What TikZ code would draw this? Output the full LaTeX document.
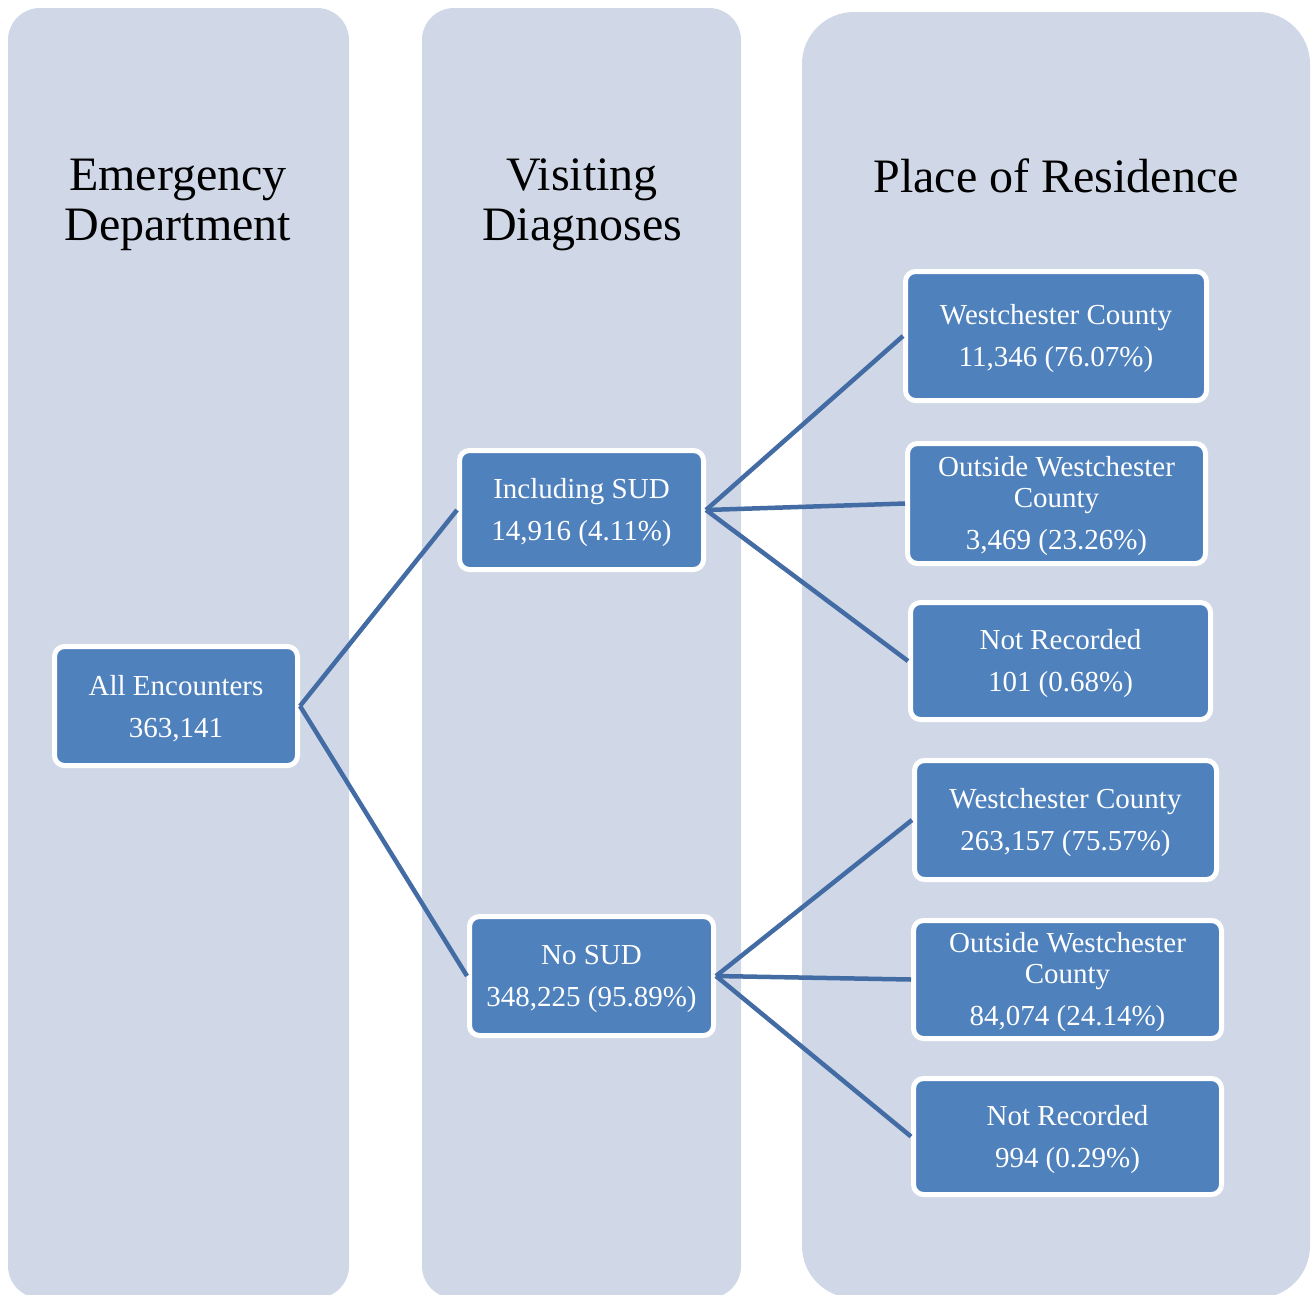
\documentclass[tikz,border=0pt]{standalone}
\usepackage{fontspec}
\setmainfont{Liberation Serif}
\usetikzlibrary{positioning}

\definecolor{lanefill}{RGB}{208,216,232}
\definecolor{boxfill}{RGB}{79,129,189}
\definecolor{linkcol}{RGB}{68,108,164}

\newcommand{\boxstrut}{\rule{0pt}{26pt}}

\tikzset{
  lane/.style={fill=lanefill, draw=none, rounded corners=#1},
  lanetitle/.style={font=\fontsize{48}{50}\selectfont, align=center, text=black},
  box/.style={fill=boxfill, draw=white, line width=5pt, rounded corners=10pt,
    text=white, align=center, font=\fontsize{29}{42}\selectfont, inner sep=0pt},
  link/.style={draw=linkcol, line width=4.5pt}
}

\begin{document}
\begin{tikzpicture}[x=1pt,y=-1pt]

    \useasboundingbox (0,0) rectangle (1314,1294);
    \clip (0,0) rectangle (1314,1294);

    % lanes
    \path[lane=32pt] (8,8) rectangle (349,1298);
    \path[lane=32pt] (422,8) rectangle (741,1298);
    \path[lane=52pt] (802,12) rectangle (1310,1298);

    \node[lanetitle] (tED) at (178,205) {Emergency\\Department};
    \node[lanetitle] (tVD) at (582,205) {Visiting\\Diagnoses};
    \node[lanetitle] (tPR) at (1056,176) {Place of Residence};

    % boxes
    \node[box, minimum width=243pt, minimum height=119pt] (enc) at (176,706) {\boxstrut All Encounters\\363,141};

    \node[box, minimum width=244pt, minimum height=119pt] (sud) at (581.5,510) {\boxstrut Including SUD\\14,916 (4.11\%)};
    \node[box, minimum width=244pt, minimum height=119pt] (nosud) at (591.5,976) {\boxstrut No SUD\\348,225 (95.89\%)};

    \node[box, minimum width=301pt, minimum height=129pt] (wcA) at (1056,336) {\boxstrut Westchester County\\11,346 (76.07\%)};
    \node[box, minimum width=298pt, minimum height=120pt] (owcA) at (1056.5,503.5) {\boxstrut Outside Westchester\\[-11pt]County\\3,469 (23.26\%)};
    \node[box, minimum width=300pt, minimum height=117pt] (nrA) at (1060.5,661) {\boxstrut Not Recorded\\101 (0.68\%)};

    \node[box, minimum width=302pt, minimum height=119pt] (wcB) at (1065.5,820) {\boxstrut Westchester County\\263,157 (75.57\%)};
    \node[box, minimum width=308pt, minimum height=118pt] (owcB) at (1067.5,979.5) {\boxstrut Outside Westchester\\[-11pt]County\\84,074 (24.14\%)};
    \node[box, minimum width=308pt, minimum height=116pt] (nrB) at (1067.5,1136.5) {\boxstrut Not Recorded\\994 (0.29\%)};

    % links
    \draw[link] (enc.east) -- (sud.west);
    \draw[link] (enc.east) -- (nosud.west);

    \draw[link] (sud.east) -- (wcA.west);
    \draw[link] (sud.east) -- (owcA.west);
    \draw[link] (sud.east) -- (nrA.west);

    \draw[link] (nosud.east) -- (wcB.west);
    \draw[link] (nosud.east) -- (owcB.west);
    \draw[link] (nosud.east) -- (nrB.west);

\end{tikzpicture}
\end{document}
